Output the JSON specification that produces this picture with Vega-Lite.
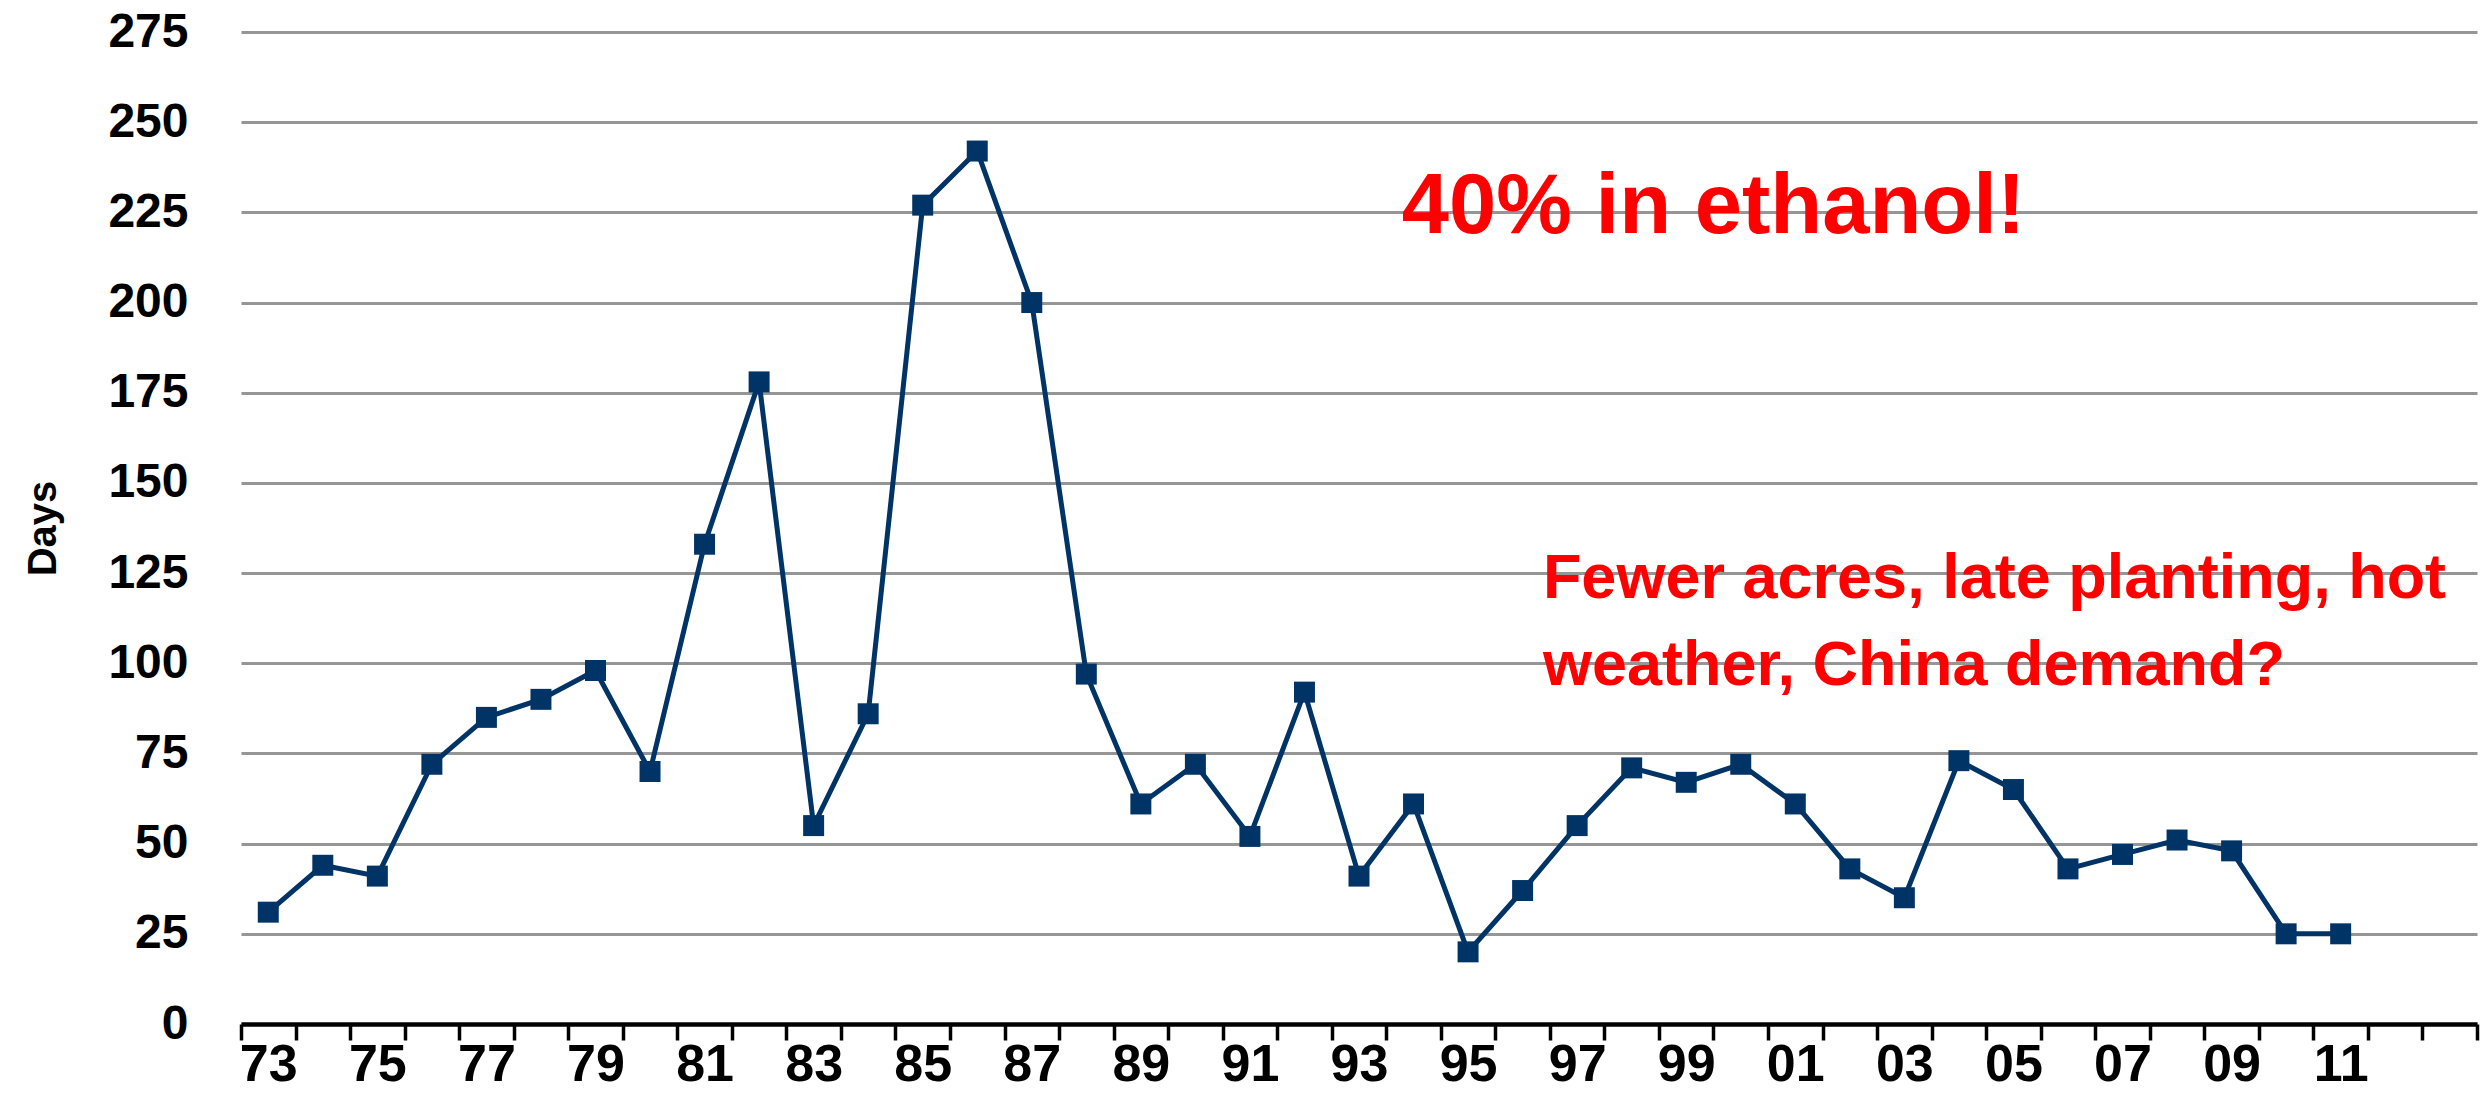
{
  "$schema": "https://vega.github.io/schema/vega-lite/v6.json",
  "width": 2236,
  "height": 992,
  "autosize": {"type": "none"},
  "padding": {"left": 241, "top": 32, "right": 13, "bottom": 95},
  "background": "white",
  "config": {"view": {"stroke": null}, "font": "Liberation Sans"},
  "datasets": {
    "series": [
      {"year": 1973, "days": 31}, {"year": 1974, "days": 44}, {"year": 1975, "days": 41},
      {"year": 1976, "days": 72}, {"year": 1977, "days": 85}, {"year": 1978, "days": 90},
      {"year": 1979, "days": 98}, {"year": 1980, "days": 70}, {"year": 1981, "days": 133},
      {"year": 1982, "days": 178}, {"year": 1983, "days": 55}, {"year": 1984, "days": 86},
      {"year": 1985, "days": 227}, {"year": 1986, "days": 242}, {"year": 1987, "days": 200},
      {"year": 1988, "days": 97}, {"year": 1989, "days": 61}, {"year": 1990, "days": 72},
      {"year": 1991, "days": 52}, {"year": 1992, "days": 92}, {"year": 1993, "days": 41},
      {"year": 1994, "days": 61}, {"year": 1995, "days": 20}, {"year": 1996, "days": 37},
      {"year": 1997, "days": 55}, {"year": 1998, "days": 71}, {"year": 1999, "days": 67},
      {"year": 2000, "days": 72}, {"year": 2001, "days": 61}, {"year": 2002, "days": 43},
      {"year": 2003, "days": 35}, {"year": 2004, "days": 73}, {"year": 2005, "days": 65},
      {"year": 2006, "days": 43}, {"year": 2007, "days": 47}, {"year": 2008, "days": 51},
      {"year": 2009, "days": 48}, {"year": 2010, "days": 25}, {"year": 2011, "days": 25}
    ],
    "headline": [
      {"year": 2000, "days": 219.3, "label": "40% in ethanol!"}
    ],
    "question": [
      {"year": 1997, "days": 118.1, "label": "Fewer acres, late planting, hot"},
      {"year": 1997, "days": 94.0, "label": "weather, China demand?"}
    ]
  },
  "layer": [
    {
      "data": {"name": "series"},
      "mark": {"type": "line", "color": "#003366", "strokeWidth": 5},
      "encoding": {
        "x": {
          "field": "year",
          "type": "ordinal",
          "bandPosition": 0.5,
          "scale": {
            "type": "band",
            "domain": [1973,1974,1975,1976,1977,1978,1979,1980,1981,1982,1983,1984,1985,1986,1987,1988,1989,1990,1991,1992,1993,1994,1995,1996,1997,1998,1999,2000,2001,2002,2003,2004,2005,2006,2007,2008,2009,2010,2011,2012,2013],
            "paddingInner": 0,
            "paddingOuter": 0
          },
          "axis": {
            "title": null,
            "tickBand": "extent",
            "labelExpr": "(datum.value % 2 == 1 && datum.value <= 2011) ? substring(toString(datum.value), 2) : ''",
            "labelAngle": 0,
            "labelOverlap": false,
            "labelFont": "Liberation Sans",
            "labelFontSize": 52,
            "labelFontWeight": "bold",
            "labelColor": "black",
            "labelBaseline": "alphabetic",
            "labelPadding": 40,
            "tickSize": 16,
            "tickWidth": 3.5,
            "tickColor": "black",
            "domainColor": "black",
            "domainWidth": 4.5,
            "grid": false,
            "zindex": 1
          }
        },
        "y": {
          "field": "days",
          "type": "quantitative",
          "scale": {"domain": [0, 275], "nice": false, "zero": true},
          "axis": {
            "title": "Days",
            "values": [0, 25, 50, 75, 100, 125, 150, 175, 200, 225, 250, 275],
            "grid": true,
            "gridColor": "#969696",
            "gridWidth": 3,
            "domain": false,
            "ticks": false,
            "tickSize": 0,
            "labelPadding": 53,
            "labelFont": "Liberation Sans",
            "labelFontSize": 48,
            "labelFontWeight": "bold",
            "labelColor": "black",
            "titleFont": "Liberation Sans",
            "titleFontSize": 40,
            "titleFontWeight": "bold",
            "titleColor": "black",
            "titleAngle": -90,
            "titleX": -198,
            "titleY": 496,
            "titleAlign": "center",
            "titleBaseline": "middle"
          }
        }
      }
    },
    {
      "data": {"name": "series"},
      "mark": {"type": "point", "shape": "square", "filled": true, "size": 440, "color": "#003366", "opacity": 1},
      "encoding": {
        "x": {"field": "year", "type": "ordinal", "bandPosition": 0.5},
        "y": {"field": "days", "type": "quantitative"}
      }
    },
    {
      "data": {"name": "headline"},
      "mark": {"type": "text", "align": "center", "baseline": "alphabetic", "font": "Liberation Sans", "fontSize": 85, "fontWeight": "bold", "color": "#FF0000"},
      "encoding": {
        "x": {"field": "year", "type": "ordinal", "bandPosition": 0},
        "y": {"field": "days", "type": "quantitative"},
        "text": {"field": "label"}
      }
    },
    {
      "data": {"name": "question"},
      "mark": {"type": "text", "align": "left", "baseline": "alphabetic", "dx": -7, "font": "Liberation Sans", "fontSize": 63, "fontWeight": "bold", "color": "#FF0000"},
      "encoding": {
        "x": {"field": "year", "type": "ordinal", "bandPosition": 0},
        "y": {"field": "days", "type": "quantitative"},
        "text": {"field": "label"}
      }
    }
  ]
}
